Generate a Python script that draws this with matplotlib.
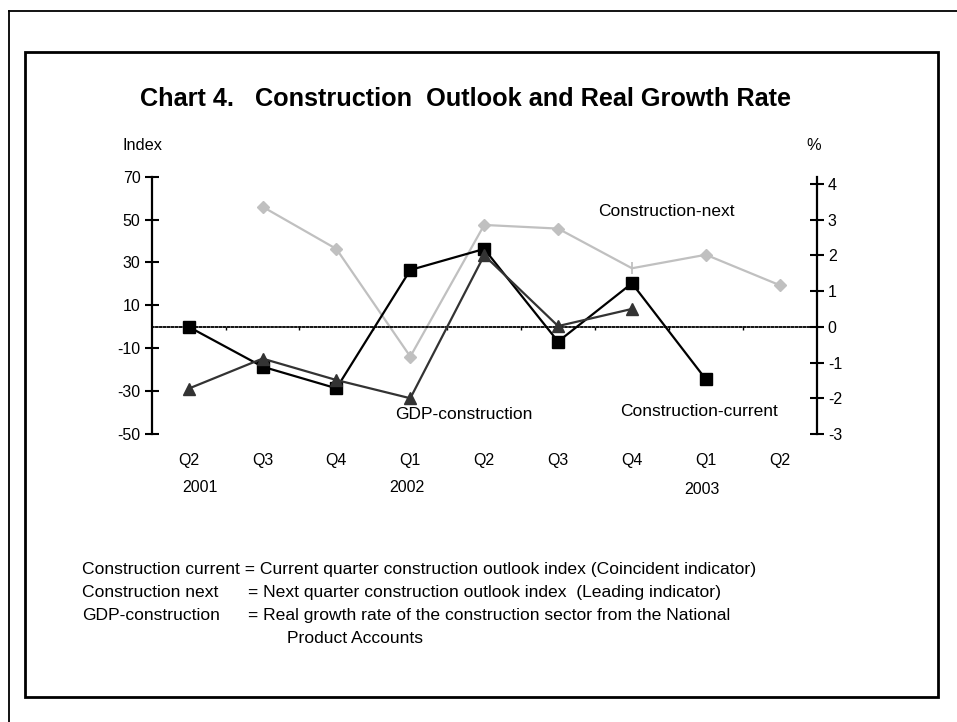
import matplotlib
matplotlib.use("Agg")
import matplotlib.pyplot as plt
from matplotlib.patches import Rectangle
from matplotlib.lines import Line2D
import matplotlib.transforms as mtransforms

plt.rcParams['font.family'] = ['Liberation Sans', 'DejaVu Sans']
plt.rcParams['axes.unicode_minus'] = False

quarters = ["Q2", "Q3", "Q4", "Q1", "Q2", "Q3", "Q4", "Q1", "Q2"]
years = ["2001", "2002", "2003"]

construction_current = [0, -18.6, -28.7, 26.5, 36.3, -6.9, 20.3, -24.5, None]
construction_next = [None, 56.0, 36.3, -13.9, 47.5, 45.8, 27.3, 33.6, 19.4]
gdp_construction = [-1.73, -0.89, -1.49, -2.0, 2.0, 0.02, 0.5, None, None]

index_ticks = [70, 50, 30, 10, -10, -30, -50]
pct_ticks = [4, 3, 2, 1, 0, -1, -2, -3]

W, H = 957, 722
fig = plt.figure(figsize=(W / 100, H / 100), dpi=100)


def fx(x):
    return x / W


def fy(y):
    return 1 - y / H


# frames
fig.add_artist(Line2D([fx(9), fx(9)], [fy(11), 0], color='black', lw=1.3))
fig.add_artist(Line2D([fx(9), 1], [fy(11), fy(11)], color='black', lw=1.3))
fig.add_artist(Rectangle((fx(25), fy(696.5)), fx(937.5) - fx(25), fy(52) - fy(696.5),
                         fill=False, edgecolor='black', lw=2.0))

ax = fig.add_axes([fx(151.7), fy(434), fx(816.7) - fx(151.7), fy(176.7) - fy(434)])
ax.set_facecolor('none')
ax.set_xlim(-0.5, 8.5)
ax.set_ylim(-50, 70)
ax.set_yticks(index_ticks)
ax.tick_params(axis='y', direction='inout', length=10, width=1.5, labelsize=11.5, pad=3)
for s in ['top', 'right']:
    ax.spines[s].set_visible(False)
ax.spines['left'].set_linewidth(1.6)
ax.spines['bottom'].set_position(('data', 0))
ax.spines['bottom'].set_linestyle((0, (1, 1.2)))
ax.spines['bottom'].set_linewidth(1.3)
ax.set_xticks([i + 0.5 for i in range(8)])
ax.set_xticklabels([])
ax.tick_params(axis='x', direction='out', length=2, width=1, color='black')

ax2 = ax.twinx()
ax2.set_ylim(-3, 4.2)
ax2.set_yticks(pct_ticks)
ax2.set_yticklabels([str(t) for t in pct_ticks])
ax2.tick_params(axis='y', direction='inout', length=10, width=1.5, labelsize=11.5, pad=3)
for s in ['top', 'left', 'bottom']:
    ax2.spines[s].set_visible(False)
ax2.spines['right'].set_linewidth(1.6)

xs = list(range(9))


def pts(vals):
    xx = [x for x, v in zip(xs, vals) if v is not None]
    yy = [v for v in vals if v is not None]
    return xx, yy


nx, ny = pts(construction_next)
ax.plot(nx, ny, color='#c0c0c0', lw=1.6, zorder=2)
diamond_idx = [i for i, x in enumerate(nx) if x != 6]
ax.plot([nx[i] for i in diamond_idx], [ny[i] for i in diamond_idx], ls='none',
        marker='D', ms=6.5, color='#c0c0c0', zorder=2)
ax.plot([x for x in nx if x == 6], [y for x, y in zip(nx, ny) if x == 6], ls='none',
        marker='|', ms=8, mew=1.3, color='#c0c0c0', zorder=2)

gx, gy = pts(gdp_construction)
ax2.plot(gx, gy, color='#333333', lw=1.6, marker='^', ms=8.5, zorder=3)

cx, cy = pts(construction_current)
ax.plot(cx, cy, color='black', lw=1.6, marker='s', ms=9, zorder=4)

lab_fs = 12.5
fig.text(fx(598), fy(211), "Construction-next", fontsize=lab_fs, va='center', ha='left')
fig.text(fx(395), fy(415), "GDP-construction", fontsize=lab_fs, va='center', ha='left')
fig.text(fx(620), fy(412), "Construction-current", fontsize=lab_fs, va='center', ha='left')

trans = mtransforms.blended_transform_factory(ax.transData, fig.transFigure)
for i, q in enumerate(quarters):
    ax.text(i, fy(460), q, transform=trans, ha='center', va='center', fontsize=11.5)
for p, yv, yy in zip([0.15, 2.95, 6.95], years, [487, 487, 490]):
    ax.text(p, fy(yy), yv, transform=trans, ha='center', va='center', fontsize=11.5)

fig.text(fx(143), fy(146), "Index", ha='center', va='center', fontsize=11.8)
fig.text(fx(814), fy(146), "%", ha='center', va='center', fontsize=11.8)

fig.text(fx(140), fy(99), "Chart 4.   Construction  Outlook and Real Growth Rate",
         ha='left', va='center', fontsize=18.2, fontweight='bold')

fs = 12.6
b = 6
fig.text(fx(82), fy(568 + b), "Construction current = Current quarter construction outlook index (Coincident indicator)",
         ha='left', va='baseline', fontsize=fs)
fig.text(fx(82), fy(591 + b), "Construction next", ha='left', va='baseline', fontsize=fs)
fig.text(fx(248), fy(591 + b), "= Next quarter construction outlook index  (Leading indicator)",
         ha='left', va='baseline', fontsize=fs)
fig.text(fx(82), fy(614 + b), "GDP-construction", ha='left', va='baseline', fontsize=fs)
fig.text(fx(248), fy(614 + b), "= Real growth rate of the construction sector from the National",
         ha='left', va='baseline', fontsize=fs)
fig.text(fx(287), fy(637 + b), "Product Accounts", ha='left', va='baseline', fontsize=fs)

fig.savefig("out.png", dpi=100)
